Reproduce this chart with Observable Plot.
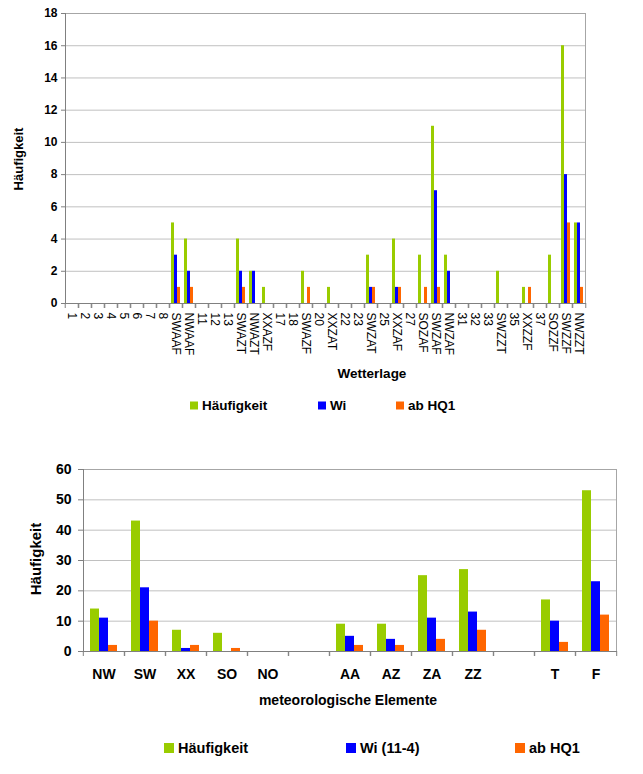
<!DOCTYPE html>
<html><head><meta charset="utf-8">
<script src="https://cdn.jsdelivr.net/npm/d3@7"></script>
<script src="https://cdn.jsdelivr.net/npm/@observablehq/plot@0.6"></script>
<style>
body{margin:0;background:#fff;font-family:"Liberation Sans",Arial,sans-serif;}
#wrap{position:relative;width:643px;height:774px;overflow:hidden;}
.abs{position:absolute;}
.ctr{transform:translate(-50%,-50%);white-space:nowrap;font-weight:bold;color:#000;}
.rot{transform:translate(-50%,-50%) rotate(-90deg);white-space:nowrap;font-weight:bold;color:#000;}
.leg{position:absolute;display:flex;align-items:center;font-weight:bold;color:#000;white-space:nowrap;transform:translateY(-50%);}
.sw{display:inline-block;margin-right:4px;}
svg g[aria-label="y-axis tick label"] text{font-weight:bold;}
</style></head><body><div id="wrap"></div>
<script>
// ---------- Data: top chart ----------
const wetterlagen = ["1","2","3","4","5","6","7","8","SWAAF","NWAAF","11","12","13","SWAZT","NWAZT","XXAZF","17","18","SWAZF","20","XXZAT","22","23","SWZAT","25","XXZAF","27","SOZAF","SWZAF","NWZAF","31","32","33","SWZZT","35","XXZZF","37","SOZZF","SWZZF","NWZZT"];
const haeufigkeit = [0,0,0,0,0,0,0,0,5,4,0,0,0,4,2,1,0,0,2,0,1,0,0,3,0,4,0,3,11,3,0,0,0,2,0,1,0,3,16,5];
const wi          = [0,0,0,0,0,0,0,0,3,2,0,0,0,2,2,0,0,0,0,0,0,0,0,1,0,1,0,0,7,2,0,0,0,0,0,0,0,0,8,5];
const abHQ1       = [0,0,0,0,0,0,0,0,1,1,0,0,0,1,0,0,0,0,1,0,0,0,0,1,0,1,0,1,1,0,0,0,0,0,0,1,0,0,5,1];
const seriesTop = ["Häufigkeit","Wi","ab HQ1"];
const yTicksTop = [0,2,4,6,8,10,12,14,16,18];

// ---------- Data: bottom chart ----------
const elemente = ["NW","SW","XX","SO","NO","","AA","AZ","ZA","ZZ"," ","T","F"];
const haeufigkeit2 = [14,43,7,6,0,0,9,9,25,27,0,17,53];
const wi2          = [11,21,1,0,0,0,5,4,11,13,0,10,23];
const abHQ1_2      = [2,10,2,1,0,0,2,2,4,7,0,3,12];
const seriesBottom = ["Häufigkeit","Wi (11-4)","ab HQ1"];
const yTicksBottom = [0,10,20,30,40,50,60];

const colors = ["#99cc00","#0000ff","#ff6600"];
const FONT = '"Liberation Sans", Arial, sans-serif';

function rows(cats, seriesNames, arrays) {
  const out = [];
  cats.forEach((c, i) => seriesNames.forEach((s, j) => out.push({cat: c, series: s, value: arrays[j][i]})));
  return out;
}
const rowsTop = rows(wetterlagen, seriesTop, [haeufigkeit, wi, abHQ1]);
const rowsBottom = rows(elemente, seriesBottom, [haeufigkeit2, wi2, abHQ1_2]);

const wrap = document.getElementById("wrap");

function makeChart(o) {
  const fw = (o.width - o.ml - o.mr) / o.cats.length;
  const p = Plot.plot({
    width: o.width, height: o.height,
    marginLeft: o.ml, marginRight: o.mr, marginTop: o.mt, marginBottom: o.mb,
    style: {fontFamily: FONT, fontSize: o.tickFont, color: "#000", background: "transparent", overflow: "visible"},
    fx: {domain: o.cats, padding: 0, label: null},
    x: {domain: o.series, paddingInner: 0, paddingOuter: o.po, axis: null},
    y: {domain: [0, o.yTicks[o.yTicks.length - 1]], label: null},
    color: {domain: o.series, range: colors},
    marks: [
      Plot.gridY(o.yTicks, {stroke: "#c0c0c0", strokeOpacity: 1}),
      Plot.barY(o.rows, {fx: "cat", x: "series", y: "value", fill: "series"}),
      Plot.frame({facet: "super", stroke: "#a6a6a6"}),
      Plot.frame({facet: "super", anchor: "left", stroke: "#808080"}),
      Plot.frame({facet: "super", anchor: "bottom", stroke: "#808080"}),
      Plot.axisY(o.yTicks, {tickSize: o.ytickSize, tickPadding: o.ytickPad, stroke: "#808080", fill: "#000", fontWeight: "bold", fontSize: o.tickFont, label: null}),
      Plot.axisFx({anchor: "bottom", text: null, tickSize: 5, dx: -fw / 2, stroke: "#808080", label: null}),
      Plot.axisFx([o.cats[o.cats.length - 1]], {anchor: "bottom", text: null, tickSize: 5, dx: fw / 2, stroke: "#808080", label: null}),
      Plot.axisFx({anchor: "bottom", tickSize: 0, tickPadding: o.xPad, tickRotate: o.rot, fill: "#000", fontWeight: o.xWeight, fontSize: o.xFont, label: null})
    ]
  });
  p.style.position = "absolute";
  p.style.left = "0px";
  p.style.top = o.top + "px";
  wrap.appendChild(p);
}

makeChart({cats: wetterlagen, series: seriesTop, rows: rowsTop, yTicks: yTicksTop,
  width: 643, height: 365, ml: 54, mr: 47, mt: 13, mb: 62, top: 0, po: 0.55,
  tickFont: "12px", ytickSize: 4, ytickPad: 4, xPad: 9, rot: 90, xWeight: "normal", xFont: "12px"});

makeChart({cats: elemente, series: seriesBottom, rows: rowsBottom, yTicks: yTicksBottom,
  width: 643, height: 260, ml: 80, mr: 25, mt: 29, mb: 49, top: 440, po: 0.68,
  tickFont: "14px", ytickSize: 5, ytickPad: 7, xPad: 18, rot: 0, xWeight: "bold", xFont: "14px"});

// ---------- HTML text: axis titles and legends ----------
function addText(cls, text, x, y, size) {
  const d = document.createElement("div");
  d.className = "abs " + cls;
  d.style.left = x + "px"; d.style.top = y + "px"; d.style.fontSize = size;
  d.textContent = text;
  wrap.appendChild(d);
}
addText("rot", "Häufigkeit", 18, 159, "13px");
addText("ctr", "Wetterlage", 372, 373, "13.5px");
addText("rot", "Häufigkeit", 35, 559, "15px");
addText("ctr", "meteorologische Elemente", 348, 700, "14px");

function addLegend(names, xs, y, size, sq) {
  names.forEach((n, i) => {
    const d = document.createElement("div");
    d.className = "leg";
    d.style.left = xs[i] + "px"; d.style.top = y + "px"; d.style.fontSize = size;
    const s = document.createElement("span");
    s.className = "sw";
    s.style.width = sq + "px"; s.style.height = sq + "px"; s.style.background = colors[i];
    d.appendChild(s);
    d.appendChild(document.createTextNode(n));
    wrap.appendChild(d);
  });
}
addLegend(seriesTop, [190, 318, 396], 405, "13.5px", 8);
addLegend(seriesBottom, [164, 346, 515], 748, "14.5px", 10);
</script></body></html>
